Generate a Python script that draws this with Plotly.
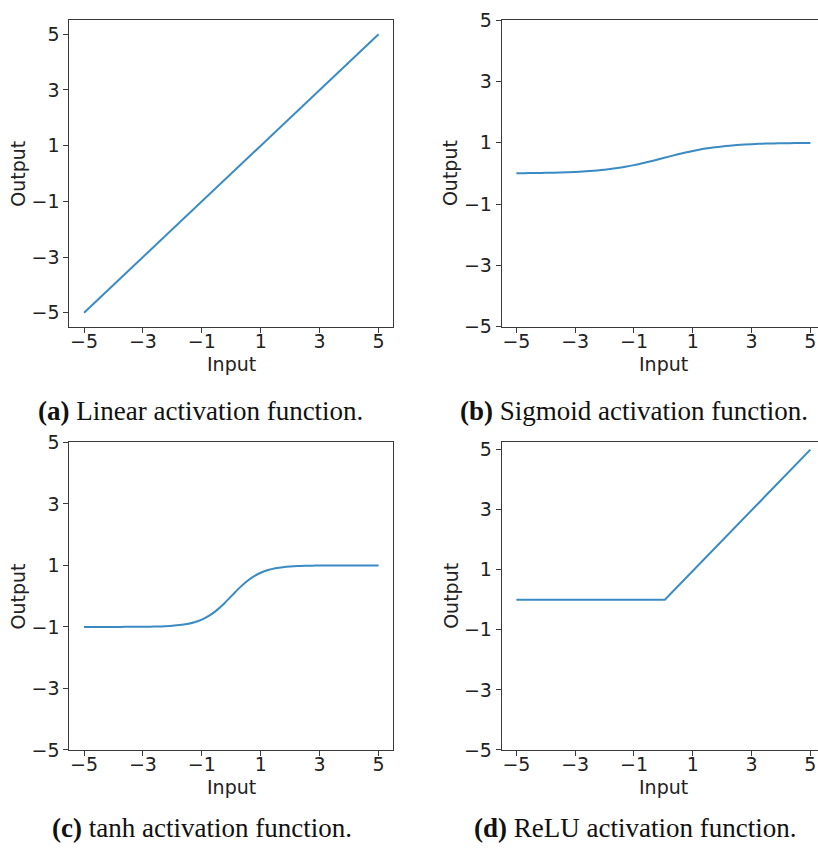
import plotly.graph_objects as go

x_smooth = [-5, -4.75, -4.5, -4.25, -4, -3.75, -3.5, -3.25, -3, -2.75, -2.5, -2.25,
            -2, -1.75, -1.5, -1.25, -1, -0.75, -0.5, -0.25, 0,
            0.25, 0.5, 0.75, 1, 1.25, 1.5, 1.75, 2, 2.25, 2.5, 2.75,
            3, 3.25, 3.5, 3.75, 4, 4.25, 4.5, 4.75, 5]
sigmoid_vals = [0.0067, 0.0086, 0.0110, 0.0141, 0.0180, 0.0230, 0.0293, 0.0373,
                0.0474, 0.0601, 0.0759, 0.0954, 0.1192, 0.1481, 0.1824, 0.2227,
                0.2689, 0.3208, 0.3775, 0.4378, 0.5,
                0.5622, 0.6225, 0.6792, 0.7311, 0.7773, 0.8176, 0.8520, 0.8808,
                0.9047, 0.9241, 0.9399, 0.9526, 0.9627, 0.9707, 0.9770, 0.9820,
                0.9859, 0.9890, 0.9914, 0.9933]
tanh_vals = [-0.9999, -0.9999, -0.9998, -0.9996, -0.9993, -0.9989, -0.9982, -0.9970,
             -0.9951, -0.9919, -0.9866, -0.9780, -0.9640, -0.9414, -0.9051, -0.8483,
             -0.7616, -0.6351, -0.4621, -0.2449, 0.0,
             0.2449, 0.4621, 0.6351, 0.7616, 0.8483, 0.9051, 0.9414, 0.9640,
             0.9780, 0.9866, 0.9919, 0.9951, 0.9970, 0.9982, 0.9989, 0.9993,
             0.9996, 0.9998, 0.9999, 0.9999]
x_linear = [-5, 5]
linear_vals = [-5, 5]
x_relu = [-5, 0.05, 5]
relu_vals = [0, 0, 5]

tick_vals = [-5, -3, -1, 1, 3, 5]
tick_text = ["\u22125", "\u22123", "\u22121", "1", "3", "5"]
captions = ["<b>(a)</b> Linear activation function.",
            "<b>(b)</b> Sigmoid activation function.",
            "<b>(c)</b> tanh activation function.",
            "<b>(d)</b> ReLU activation function."]
x_label = "Input"
y_label = "Output"

W, H = 818, 861
LINE = "#3a8ac4"
AX = "#3a3a3a"
TXT = "#222222"
TICKFONT = dict(family="DejaVu Sans", size=19, color=TXT)

def px_x(p):
    return p / W

def px_y(p):
    return 1 - p / H

# panel geometry (pixels): left, right, top, bottom, axis ranges
panels = [
    dict(l=69.3, r=393.3, t=9.5, b=324.0, xr=[-5.5, 5.5], yr=[-5.5, 5.5],
         x=x_linear, y=linear_vals, shape="linear", mirror_y=True, xc=231),
    dict(l=501.7, r=818.0, t=9.3, b=324.0, xr=[-5.5, 5.26], yr=[-5, 5],
         x=x_smooth, y=sigmoid_vals, shape="spline", mirror_y=False, xc=663),
    dict(l=69.3, r=393.3, t=442.7, b=758.3, xr=[-5.5, 5.5], yr=[-5, 5],
         x=x_smooth, y=tanh_vals, shape="spline", mirror_y=True, xc=231),
    dict(l=501.7, r=818.0, t=442.7, b=758.3, xr=[-5.5, 5.26], yr=[-5, 5.24],
         x=x_relu, y=relu_vals, shape="linear", mirror_y=False, xc=663),
]

fig = go.Figure()
layout = dict(
    width=W, height=H,
    margin=dict(l=0, r=0, t=0, b=0),
    paper_bgcolor="white", plot_bgcolor="white",
    showlegend=False,
    annotations=[],
)

for i, p in enumerate(panels, start=1):
    xa = "x" if i == 1 else f"x{i}"
    ya = "y" if i == 1 else f"y{i}"
    fig.add_trace(go.Scatter(x=p["x"], y=p["y"], mode="lines",
                             line=dict(color=LINE, width=2, shape=p["shape"]),
                             xaxis=xa, yaxis=ya, hoverinfo="skip"))
    common = dict(showgrid=False, zeroline=False, showline=True, linecolor=AX, linewidth=1,
                  ticks="outside", ticklen=5, tickwidth=1, tickcolor=AX,
                  tickvals=tick_vals, ticktext=tick_text, tickfont=TICKFONT)
    layout["xaxis" if i == 1 else f"xaxis{i}"] = dict(
        common, domain=[px_x(p["l"]), px_x(p["r"])], range=p["xr"],
        anchor=ya, mirror=True, ticklabelstandoff=-8)
    layout["yaxis" if i == 1 else f"yaxis{i}"] = dict(
        common, domain=[px_y(p["b"]), px_y(p["t"])], range=p["yr"],
        anchor=xa, mirror=p["mirror_y"], ticklabelstandoff=0)
    layout["annotations"].append(dict(
        text=x_label, xref="paper", yref="paper", x=px_x(p["xc"]), y=px_y(p["b"] + 38),
        showarrow=False, xanchor="center", yanchor="middle",
        font=dict(family="DejaVu Sans", size=19, color=TXT)))
    layout["annotations"].append(dict(
        text=y_label, xref="paper", yref="paper", x=px_x(p["l"] - 51), y=px_y((p["t"] + p["b"]) / 2),
        showarrow=False, xanchor="center", yanchor="middle", textangle=-90,
        font=dict(family="DejaVu Sans", size=19, color=TXT)))

cap_pos = [(200.5, 410.5), (634, 410.5), (201.5, 838), (634.5, 838)]
for (cx, cy), txt in zip(cap_pos, captions):
    layout["annotations"].append(dict(
        text=txt, xref="paper", yref="paper", x=px_x(cx), y=px_y(cy),
        showarrow=False, xanchor="center", yanchor="middle",
        font=dict(family="Liberation Serif", size=27, color="#111")))

fig.update_layout(**layout)
fig.write_html("out.html")
